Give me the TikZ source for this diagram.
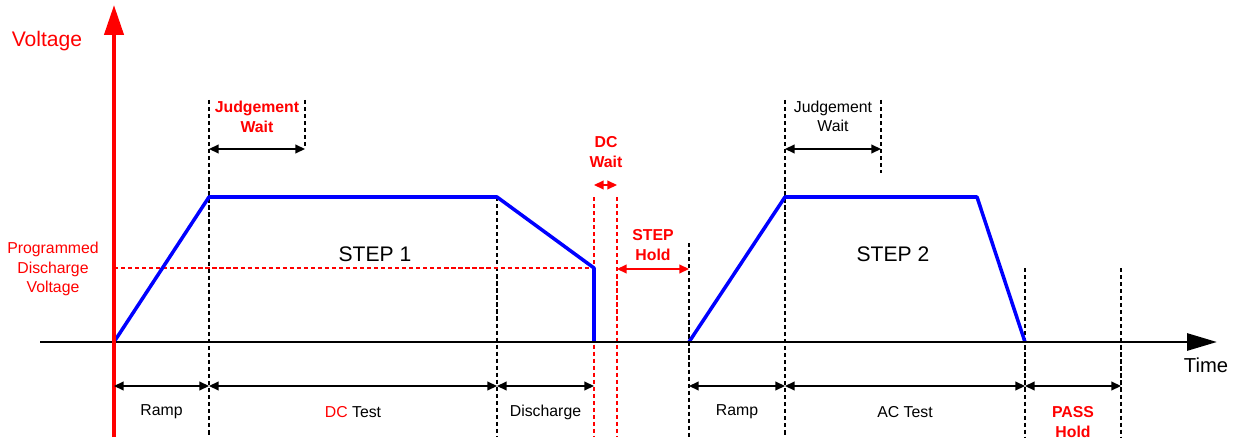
\documentclass[tikz,border=0pt]{standalone}
\usepackage{fontspec}
\setmainfont{Liberation Sans}
\usetikzlibrary{arrows.meta}
\usepackage{xcolor}

\begin{document}
\begin{tikzpicture}[x=0.02cm, y=-0.02cm,
    guide/.style={line width=0.75pt, dash pattern=on 2.4pt off 1.6pt},
    dim/.style={line width=0.85pt, {Triangle[length=5.5pt,width=5pt]}-{Triangle[length=5.5pt,width=5pt]}},
    small/.style={font=\fontsize{9pt}{11pt}\selectfont, align=center},
    wave/.style={blue, line width=2pt, line join=round}]
  \useasboundingbox (0,0) rectangle (1238,439);

  % guide lines
  \foreach \x/\t/\b in {209/100/437, 305/100/148, 497/197/437, 689/243/437, 785/100/437, 881/100/173, 1025/268/437, 1121/268/437}
    \draw[guide] (\x,\t) -- (\x,\b);
  \foreach \x in {594, 617}
    \draw[guide, red] (\x,197) -- (\x,437);
  \draw[guide, red] (114,268) -- (594,268);

  % waveform
  \coordinate (s0) at (114,342);
  \coordinate (s1) at (209,197);
  \coordinate (s2) at (497,197);
  \coordinate (s3) at (594,268);
  \coordinate (s4) at (594,342);
  \coordinate (t0) at (689,342);
  \coordinate (t1) at (785,197);
  \coordinate (t2) at (977,197);
  \coordinate (t3) at (1025,342);
  \draw[wave] (s0) -- (s1) -- (s2) -- (s3) -- (s4);
  \draw[wave] (t0) -- (t1) -- (t2) -- (t3);

  % axes
  \coordinate (tstart) at (40,342);
  \coordinate (tend) at (1217,342);
  \coordinate (vstart) at (114,437);
  \coordinate (vend) at (114,5);
  \draw[line width=1.7pt, -{Triangle[length=17pt,width=9.6pt]}] (tstart) -- (tend);
  \draw[red, line width=2.3pt, -{Triangle[length=17pt,width=10.8pt]}] (vstart) -- (vend);
  \node[red, font=\fontsize{12pt}{14pt}\selectfont] (vlabel) at (47,41) {Voltage};
  \node[font=\fontsize{11.5pt}{14pt}\selectfont] (tlabel) at (1206,365) {Time};

  % durations
  \foreach \a/\b in {114/209, 209/497, 497/594, 689/785, 785/1025, 1025/1121}
    \draw[dim] (\a,386) -- (\b,386);
  \node[small] (ramp1) at (161.5,412) {Ramp};
  \node[small] (dctest) at (353,412) {\textcolor{red}{DC} Test};
  \node[small] (disch) at (545.5,412) {Discharge};
  \node[small] (ramp2) at (737,412) {Ramp};
  \node[small] (actest) at (905,412) {AC Test};
  \node[small, red, font=\fontsize{9pt}{11pt}\selectfont\bfseries] (pass) at (1073,422) {PASS\\Hold};

  % waits
  \draw[dim] (209,149) -- (305,149);
  \draw[dim] (785,149) -- (881,149);
  \draw[dim, red] (594,185) -- (617,185);
  \draw[dim, red] (617,269) -- (689,269);
  \node[small, red, font=\fontsize{9pt}{11pt}\selectfont\bfseries] (jw1) at (257,117) {Judgement\\Wait};
  \node[small] (jw2) at (833,116.5) {Judgement\\Wait};
  \node[small, red, font=\fontsize{9pt}{11pt}\selectfont\bfseries] (dcw) at (606,152) {DC\\Wait};
  \node[small, red, font=\fontsize{9pt}{11pt}\selectfont\bfseries] (sth) at (653,245) {STEP\\Hold};
  \node[small, red] (pdv) at (53,269) {Programmed\\Discharge\\Voltage};

  \node[font=\fontsize{12pt}{14pt}\selectfont] (step1) at (375,254) {STEP 1};
  \node[font=\fontsize{12pt}{14pt}\selectfont] (step2) at (893,254) {STEP 2};
\end{tikzpicture}
\end{document}
